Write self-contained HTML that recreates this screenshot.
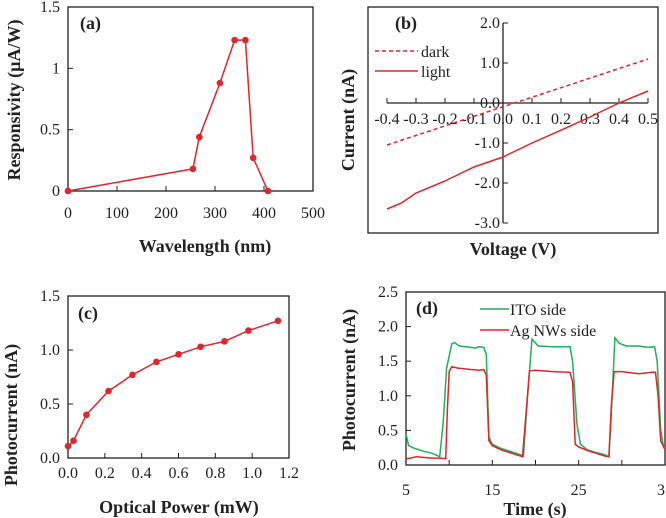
<!DOCTYPE html>
<html><head><meta charset="utf-8"><style>
body{margin:0;background:#fff;}
svg{display:block;font-family:"Liberation Serif",serif;}
.t{font-size:16px;fill:#222;}
.ti{font-size:18px;font-weight:bold;fill:#222;}
</style></head><body>
<svg id="fig" width="666" height="518"></svg>
<script>
// Panel (a)
const aWavelength=[0,255,268,310,340,362,378,408];
const aResp=[0,0.18,0.44,0.88,1.23,1.23,0.27,0];
const aXTicks=[0,100,200,300,400,500];
const aYTicks=[0,0.5,1,1.5];
// Panel (b)
const bDarkV=[-0.4,0.5];
const bDarkI=[-1.05,1.1];
const bLightV=[-0.4,-0.35,-0.3,-0.2,-0.1,0,0.1,0.2,0.3,0.4,0.5];
const bLightI=[-2.65,-2.5,-2.25,-1.95,-1.6,-1.35,-1.0,-0.68,-0.35,0,0.3];
const bXTicks=[-0.4,-0.3,-0.2,-0.1,0.0,0.1,0.2,0.3,0.4,0.5];
const bYTicks=[2.0,1.0,0.0,-1.0,-2.0,-3.0];
// Panel (c)
const cPower=[0,0.03,0.1,0.22,0.35,0.48,0.6,0.72,0.85,0.98,1.14];
const cCurrent=[0.11,0.16,0.4,0.62,0.77,0.89,0.96,1.03,1.08,1.18,1.27];
const cXTicks=[0,0.2,0.4,0.6,0.8,1.0,1.2];
const cYTicks=[0,0.5,1.0,1.5];
// Panel (d)
const dItoT=[5,5.3,6,7,8,8.9,9.3,9.7,10.3,10.6,11.2,12.5,13,13.5,14,14.3,14.6,15,16,17,18,18.6,19.2,19.6,20.3,22,24,24.3,24.8,25.2,26,27,28,28.5,28.8,29.2,29.7,30.5,32,33,33.8,34.1,34.5,34.8,35];
const dItoI=[0.45,0.28,0.24,0.2,0.17,0.12,0.6,1.4,1.75,1.77,1.72,1.7,1.69,1.71,1.7,1.6,0.4,0.3,0.24,0.2,0.16,0.13,1.2,1.82,1.72,1.71,1.71,1.5,0.6,0.3,0.22,0.18,0.15,0.12,0.8,1.84,1.76,1.72,1.72,1.7,1.71,1.5,0.5,0.28,0.25];
const dAgT=[5,5.5,6.2,7,8,9,9.6,9.8,10,10.3,11,12.5,13.5,14,14.3,14.6,15,16,17,18,18.5,19,19.3,20,22,24,24.3,24.6,25,26,27,28,28.5,28.8,29.1,30,32,33.5,33.9,34.2,34.5,35];
const dAgI=[0.09,0.1,0.12,0.11,0.1,0.1,0.09,0.8,1.35,1.42,1.4,1.38,1.37,1.38,1.3,0.35,0.28,0.22,0.18,0.14,0.12,0.9,1.36,1.37,1.35,1.34,1.2,0.3,0.26,0.21,0.17,0.13,0.12,0.9,1.35,1.35,1.32,1.34,1.34,1.0,0.35,0.22];
const dXTicks=[5,15,25,35];
const dYTicks=[0,0.5,1.0,1.5,2.0,2.5];

const svg=document.getElementById('fig');
const NS='http://www.w3.org/2000/svg';
function mk(tag,attrs,parent){const e=document.createElementNS(NS,tag);for(const k in attrs)e.setAttribute(k,attrs[k]);(parent||svg).appendChild(e);return e;}
function txt(s,x,y,cls,anchor,parent,rot){const e=mk('text',{x:x,y:y,class:cls,'text-anchor':anchor||'middle'},parent);if(rot)e.setAttribute('transform','rotate(-90 '+x+' '+y+')');e.textContent=s;return e;}
function scale(d0,d1,r0,r1){return v=>r0+(v-d0)/(d1-d0)*(r1-r0);}
function path(xs,ys,sx,sy){return xs.map((v,i)=>(i?'L':'M')+sx(v).toFixed(1)+','+sy(ys[i]).toFixed(1)).join('');}

// ---- (a)
{const g=mk('g',{});
const sx=scale(0,500,68,313),sy=scale(0,1.5,191,7);
const box=mk('rect',{x:68,y:7,width:245,height:184,fill:'none',stroke:'#222','stroke-width':1.3},g);
aXTicks.forEach(v=>{mk('line',{x1:sx(v),x2:sx(v),y1:191,y2:186,stroke:'#222'},g);const t=txt(String(v),sx(v),218,'t','middle',g);});
aYTicks.forEach(v=>{mk('line',{x1:68,x2:73,y1:sy(v),y2:sy(v),stroke:'#222'},g);const t=txt(String(v),60,sy(v)+5,'t','end',g);});
const l=mk('path',{d:path(aWavelength,aResp,sx,sy),fill:'none',stroke:'#e0252b','stroke-width':1.5},g);
aWavelength.forEach((v,i)=>{const c=mk('circle',{cx:sx(v),cy:sy(aResp[i]),r:3.3,fill:'#e0252b'},g);});
const lab=txt('(a)',80,29,'ti','start',g);
const xt=txt('Wavelength (nm)',205,252,'ti','middle',g);
const yt=txt('Responsivity (µA/W)',20,100,'ti','middle',g,true);}

// ---- (b)
{const g=mk('g',{});
const sx=scale(-0.4,0.5,387,648),sy=scale(0,2,103,23);
const box=mk('rect',{x:368,y:7,width:290,height:226,fill:'none',stroke:'#222','stroke-width':1.3},g);
mk('line',{x1:387,x2:648,y1:sy(0),y2:sy(0),stroke:'#222','stroke-width':1.3},g);
mk('line',{x1:sx(0),x2:sx(0),y1:sy(2),y2:sy(-3),stroke:'#222','stroke-width':1.3},g);
bXTicks.forEach(v=>{mk('line',{x1:sx(v),x2:sx(v),y1:sy(0),y2:sy(0)-5,stroke:'#222'},g);const t=txt(v.toFixed(1),sx(v),sy(0)+21,'t','middle',g);});
bYTicks.forEach(v=>{mk('line',{x1:sx(0),x2:sx(0)+5,y1:sy(v),y2:sy(v),stroke:'#222'},g);const t=txt(v.toFixed(1),sx(0)-3,sy(v)+5,'t','end',g);});
const d=mk('path',{d:path(bDarkV,bDarkI,sx,sy),fill:'none',stroke:'#e0252b','stroke-width':1.5,'stroke-dasharray':'4,3'},g);
const li=mk('path',{d:path(bLightV,bLightI,sx,sy),fill:'none',stroke:'#e0252b','stroke-width':1.5},g);
const le=mk('g',{},g);
mk('line',{x1:375,x2:418,y1:51,y2:51,stroke:'#e0252b','stroke-width':1.5,'stroke-dasharray':'4,3'},le);
txt('dark',421,57,'t','start',le);
mk('line',{x1:375,x2:418,y1:71,y2:71,stroke:'#e0252b','stroke-width':1.5},le);
txt('light',421,77,'t','start',le);
const lab=txt('(b)',395,29,'ti','start',g);
const xt=txt('Voltage (V)',513,255,'ti','middle',g);
const yt=txt('Current (nA)',354,120,'ti','middle',g,true);}

// ---- (c)
{const g=mk('g',{});
const sx=scale(0,1.2,68,289),sy=scale(0,1.5,458,296);
const box=mk('rect',{x:68,y:296,width:221,height:162,fill:'none',stroke:'#222','stroke-width':1.3},g);
cXTicks.forEach(v=>{mk('line',{x1:sx(v),x2:sx(v),y1:458,y2:453,stroke:'#222'},g);const t=txt(v.toFixed(1),sx(v),478,'t','middle',g);});
cYTicks.forEach(v=>{mk('line',{x1:68,x2:73,y1:sy(v),y2:sy(v),stroke:'#222'},g);const t=txt(v.toFixed(1),60,sy(v)+5,'t','end',g);});
const l=mk('path',{d:path(cPower,cCurrent,sx,sy),fill:'none',stroke:'#e0252b','stroke-width':1.5},g);
cPower.forEach((v,i)=>{const c=mk('circle',{cx:sx(v),cy:sy(cCurrent[i]),r:3.3,fill:'#e0252b'},g);});
const lab=txt('(c)',78,319,'ti','start',g);
const xt=txt('Optical Power (mW)',179,513,'ti','middle',g);
const yt=txt('Photocurrent (nA)',17,415,'ti','middle',g,true);}

// ---- (d)
{const g=mk('g',{});
const sx=scale(5,35,406,665),sy=scale(0,2.5,465,292);
const box=mk('rect',{x:406,y:292,width:259,height:173,fill:'none',stroke:'#222','stroke-width':1.3},g);
[5,10,15,20,25,30,35].forEach(v=>mk('line',{x1:sx(v),x2:sx(v),y1:465,y2:460,stroke:'#222'},g));
dXTicks.forEach(v=>{const t=txt(String(v),sx(v),495,'t','middle',g);});
dYTicks.forEach(v=>{mk('line',{x1:406,x2:411,y1:sy(v),y2:sy(v),stroke:'#222'},g);const t=txt(v.toFixed(1),398,sy(v)+5,'t','end',g);});
const gl=mk('path',{d:path(dItoT,dItoI,sx,sy),fill:'none',stroke:'#1fb25a','stroke-width':1.5},g);
const rl=mk('path',{d:path(dAgT,dAgI,sx,sy),fill:'none',stroke:'#e0252b','stroke-width':1.5},g);
const le=mk('g',{},g);
mk('line',{x1:480,x2:509,y1:309,y2:309,stroke:'#1fb25a','stroke-width':1.5},le);
txt('ITO side',510,315,'t','start',le);
mk('line',{x1:480,x2:509,y1:330,y2:330,stroke:'#e0252b','stroke-width':1.5},le);
txt('Ag NWs side',510,336,'t','start',le);
const lab=txt('(d)',416,314,'ti','start',g);
const xt=txt('Time (s)',535,515,'ti','middle',g);
const yt=txt('Photocurrent (nA)',355,380,'ti','middle',g,true);}
</script>
</body></html>
